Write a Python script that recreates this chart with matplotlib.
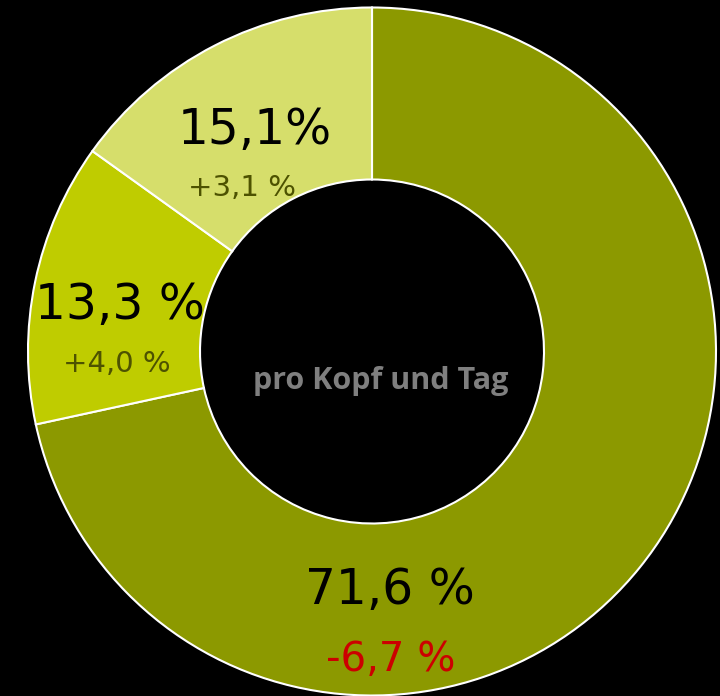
import matplotlib.pyplot as plt

shares = [71.6, 13.3, 15.1]
share_labels = ["71,6 %", "13,3 %", "15,1%"]
changes = ["-6,7 %", "+4,0 %", "+3,1 %"]
change_colors = ["#cc0000", "#4d5200", "#4d5200"]
colors = ["#8c9900", "#bfcc00", "#d6de6b"]
center_text = "pro Kopf und Tag"

W, H = 720, 696
fig = plt.figure(figsize=(W / 100, H / 100), dpi=100, facecolor="black")
ax = fig.add_axes([0, 0, 1, 1])
ax.set_facecolor("black")

ax.pie(shares, colors=colors, startangle=90, counterclock=False,
       center=(372, H - 351.5), radius=344,
       wedgeprops=dict(width=172, edgecolor="white", linewidth=1.5),
       frame=True)
ax.set_xlim(0, W)
ax.set_ylim(0, H)
ax.set_aspect("equal")
ax.axis("off")

# label positions (pixels from top-left)
big_pos = [(390, 585), (120, 300), (255, 125)]
small_pos = [(391, 655), (117, 361), (242, 185)]
small_size = [29, 21, 21]

for i in range(len(shares)):
    x, y = big_pos[i]
    ax.text(x, H - y, share_labels[i], ha="center", va="center_baseline",
            fontsize=35, color="black", family="DejaVu Sans")
    x, y = small_pos[i]
    ax.text(x, H - y, changes[i], ha="center", va="center_baseline",
            fontsize=small_size[i], color=change_colors[i], family="DejaVu Sans")

ax.text(381, H - 377, center_text, ha="center", va="center_baseline",
        fontsize=22, color="#7f7f7f", family="Open Sans", fontweight="bold")

fig.savefig("out.png", dpi=100, facecolor="black")
